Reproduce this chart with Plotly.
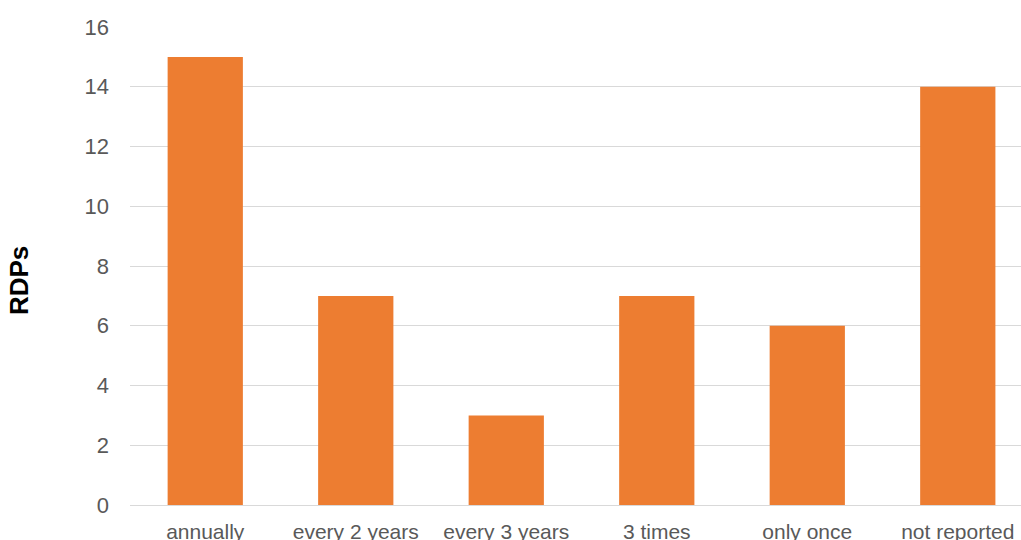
import plotly.graph_objects as go

categories = ["annually", "every 2 years", "every 3 years", "3 times", "only once", "not reported"]
values = [15, 7, 3, 7, 6, 14]
y_ticks = [0, 2, 4, 6, 8, 10, 12, 14, 16]
y_title = "RDPs"

fig = go.Figure(go.Bar(
    x=categories, y=values,
    marker=dict(color="#ED7D31", line=dict(width=0)),
    width=0.5,
))

fig.update_layout(
    width=1021, height=540,
    margin=dict(l=130, r=0, t=27, b=35, pad=0),
    paper_bgcolor="white", plot_bgcolor="white",
    font=dict(family="Liberation Sans, Arial, sans-serif", color="#595959", size=21),
    showlegend=False,
    bargap=0.5,
)
fig.update_xaxes(
    type="category",
    range=[-0.5, 5.42],
    showgrid=False, showline=False, zeroline=False, ticks="",
    tickfont=dict(size=21, color="#595959"),
    ticklabelstandoff=12,
    automargin=False,
)
fig.update_yaxes(
    range=[0, 16],
    tickvals=y_ticks,
    showgrid=True, gridcolor="#D9D9D9", gridwidth=1.3,
    zeroline=True, zerolinecolor="#D9D9D9", zerolinewidth=1.3,
    showline=False, ticks="",
    tickfont=dict(size=22, color="#595959"),
    ticklabelstandoff=20,
    automargin=False,
)
fig.add_annotation(
    text="<b>" + y_title + "</b>",
    xref="paper", yref="paper",
    x=-0.1237, y=0.47,
    xanchor="center", yanchor="middle",
    textangle=-90, showarrow=False,
    font=dict(size=26, color="#000000", family="Liberation Sans, Arial, sans-serif"),
)

fig.write_html("out.html")
